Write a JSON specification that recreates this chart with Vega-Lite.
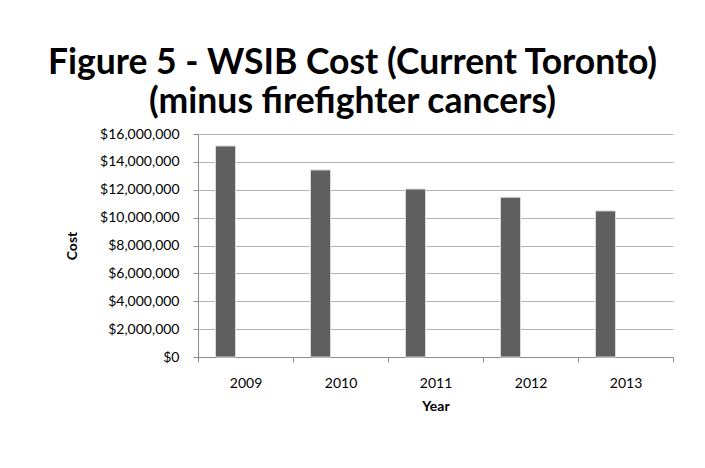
{
  "$schema": "https://vega.github.io/schema/vega-lite/v6.json",
  "width": 475,
  "height": 223,
  "autosize": {"type": "none"},
  "padding": {"left": 198, "top": 134, "right": 32, "bottom": 111},
  "background": "white",
  "title": {
    "text": ["Figure 5 - WSIB Cost (Current Toronto)", "(minus firefighter cancers)"],
    "anchor": "middle",
    "frame": "group",
    "dx": -83,
    "offset": 7,
    "font": "Lato",
    "fontSize": 35.5,
    "fontWeight": "bold",
    "color": "#000000",
    "lineHeight": 39
  },
  "data": {
    "values": [
      {"Year": "2009", "Series": "Cost", "Cost": 15140000},
      {"Year": "2010", "Series": "Cost", "Cost": 13420000},
      {"Year": "2011", "Series": "Cost", "Cost": 12050000},
      {"Year": "2012", "Series": "Cost", "Cost": 11460000},
      {"Year": "2013", "Series": "Cost", "Cost": 10480000}
    ]
  },
  "mark": {"type": "bar", "fill": "#5f5f5f", "stroke": "#d9d9d9", "strokeWidth": 1},
  "encoding": {
    "x": {
      "field": "Year",
      "type": "nominal",
      "scale": {"paddingInner": 0, "paddingOuter": 0},
      "axis": {
        "title": "Year",
        "labelAngle": 0,
        "tickBand": "extent",
        "grid": false,
        "domainColor": "#8c8c8c",
        "tickColor": "#8c8c8c",
        "tickSize": 5,
        "labelPadding": 14,
        "labelFont": "Lato",
        "labelFontSize": 14,
        "labelColor": "#000000",
        "titleFont": "Lato",
        "titleFontSize": 14,
        "titleFontWeight": "bold",
        "titleColor": "#000000",
        "titlePadding": 9
      }
    },
    "xOffset": {
      "field": "Series",
      "type": "nominal",
      "scale": {"domain": ["Cost", "Empty1", "Empty2"], "paddingInner": 0, "paddingOuter": 0.875}
    },
    "y": {
      "field": "Cost",
      "type": "quantitative",
      "scale": {"domain": [0, 16000000], "nice": false},
      "axis": {
        "title": "Cost",
        "values": [0, 2000000, 4000000, 6000000, 8000000, 10000000, 12000000, 14000000, 16000000],
        "format": "$,.0f",
        "grid": true,
        "gridColor": "#b3b3b3",
        "domainColor": "#8c8c8c",
        "tickColor": "#8c8c8c",
        "tickSize": 5,
        "labelPadding": 14,
        "labelFont": "Lato",
        "labelFontSize": 14,
        "labelColor": "#000000",
        "titleFont": "Lato",
        "titleFontSize": 14,
        "titleFontWeight": "bold",
        "titleColor": "#000000",
        "titlePadding": 20
      }
    }
  },
  "config": {"view": {"stroke": null}}
}
